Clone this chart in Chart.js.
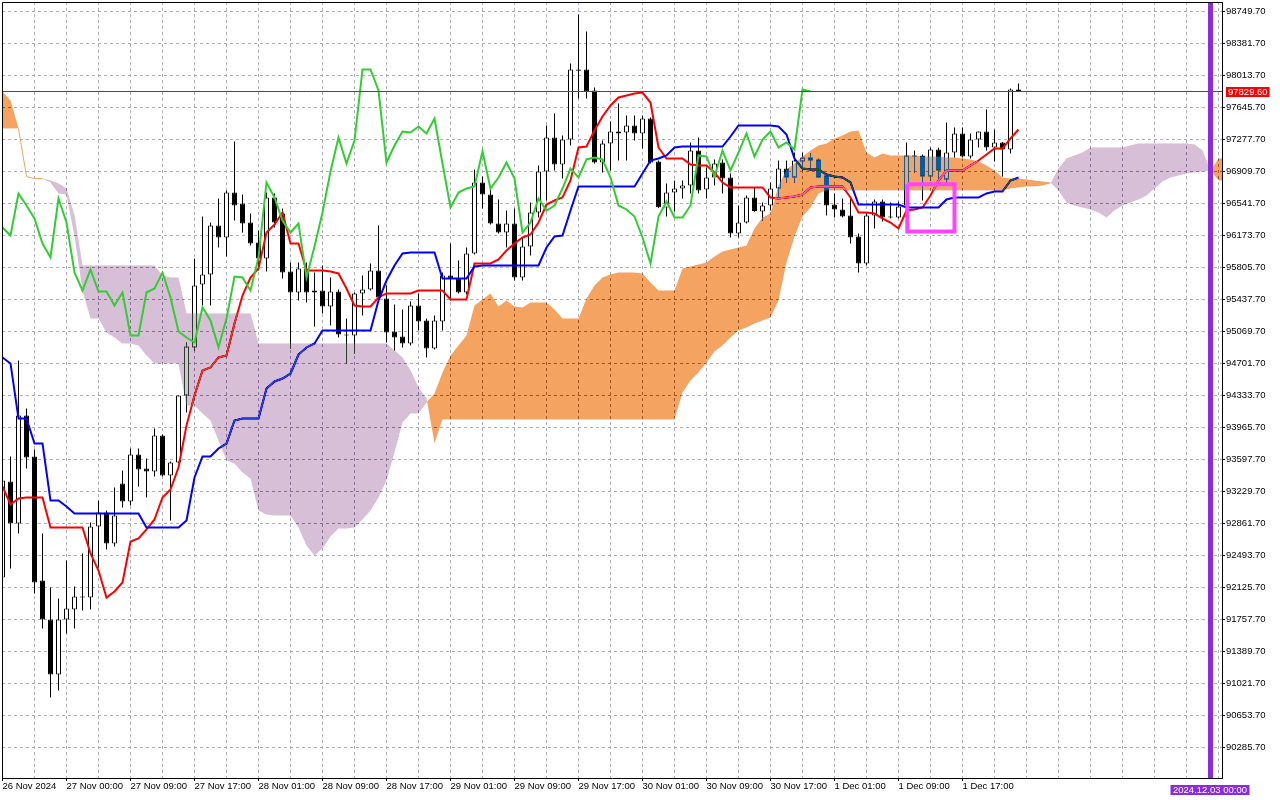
<!DOCTYPE html>
<html><head><meta charset="utf-8">
<script src="https://cdn.jsdelivr.net/npm/chart.js@4.4.1/dist/chart.umd.min.js"></script>
<style>html,body{margin:0;padding:0;background:#fff;overflow:hidden}canvas{display:block}</style>
</head><body>
<canvas id="c" width="1280" height="800"></canvas>
<script>
// ---- hourly bars (index 0 = first visible bar) ----
const openP = [
92241,93345,92862,94104,93632,92206,91758,91125,91758,91873,
92022,92011,92827,92988,92632,93322,93115,93655,93494,93460,
93874,93414,93563,94334,94886,95610,95725,96289,96151,96668,
96542,96323,96093,95909,96611,96427,95760,95518,95794,95518,
95541,95357,95530,95035,95024,95507,95553,95771,95449,95070,
95012,94932,95369,95196,94874,95185,95714,95679,95518,95967,
96783,96645,96312,96208,96312,95691,96047,96438,96910,97301,
96990,97278,98068,98083,97841,97013,97232,97370,97358,97439,
97347,97519,97025,96496,96668,96714,96749,97151,96703,96841,
97013,96841,96197,96323,96611,96450,96519,96714,96944,96841,
97025,97071,97048,96864,96530,96473,96404,96162,95852,96404,
96565,96392,96381,96519,97094,97094,96852,97163,96818,97128,
97347,97082,97278,97370,97186,97243,97163,97853];
const highP = [
93448,93632,94736,94184,93713,92747,92126,91999,92436,92137,
92517,92873,93126,93011,93276,93471,93724,93724,93609,93954,
93885,93575,94334,94943,95909,96392,96323,96599,96691,97255,
96645,96427,96231,96668,96657,96484,95863,95863,95863,95748,
95829,95691,95553,95219,95518,95714,95852,96289,95599,95380,
95323,95415,95507,95219,95254,95748,96082,95886,96036,96933,
96852,96714,96588,96461,96484,96151,96553,96979,97439,97577,
97324,98152,98715,98520,97876,97266,97485,97692,97554,97554,
97554,97531,97036,96772,96806,96806,97243,97301,96956,97048,
97048,96887,96519,96634,96726,96553,96783,97036,97036,97128,
97128,97117,97055,96887,96657,96599,96611,96197,96438,96588,
96588,96553,96565,97243,97151,97105,97186,97186,97473,97416,
97416,97347,97370,97623,97393,97250,97864,97922];
const lowP = [
92206,92344,92747,93494,92057,91654,90861,90941,91597,91654,
91861,91873,92356,92563,92597,93046,93069,93287,93161,93402,
93402,92896,93555,94138,94851,95369,95369,96036,95932,96346,
96208,96059,95771,95760,96266,95679,94874,95426,95403,95127,
95277,95139,95001,94702,94817,95254,95541,95449,94943,94851,
94886,94909,95081,94771,94863,95081,95426,95507,95495,95955,
96484,96300,96197,96036,95656,95656,95944,96381,96576,96921,
96829,97209,97749,97749,97002,96898,96921,97036,97036,97266,
97174,97002,96490,96392,96450,96599,96657,96657,96599,96749,
96657,96151,96151,96312,96448,96346,96461,96611,96783,96783,
96921,96921,96835,96404,96381,96381,96082,95748,95829,96254,
96335,96369,96369,96496,96898,96576,96806,96806,96783,97071,
97071,97059,97186,97151,97025,96852,97117,97829.6];
const closeP = [
93356,92862,94104,93621,92183,91758,91125,91758,91884,92022,
92011,92827,92988,92632,92954,93115,93655,93483,93460,93874,
93414,93563,94334,94897,95599,95725,96289,96151,96668,96519,
96312,96082,95909,96611,96323,95748,95518,95794,95518,95541,
95357,95530,95035,95024,95507,95553,95771,95461,95058,95001,
94932,95369,95185,94874,95196,95714,95679,95518,95967,96783,
96645,96312,96208,96312,95691,96047,96438,96910,97301,96990,
97278,98083,98083,97830,97013,97232,97370,97347,97439,97347,
97519,97013,96500,96668,96714,96749,97151,96691,96841,97002,
96829,96197,96323,96611,96455,96519,96714,96944,96841,97036,
97071,97036,96841,96519,96473,96392,96151,95852,96404,96565,
96381,96381,96507,97094,97082,96852,97163,96921,97128,97347,
97082,97278,97370,97186,97243,97163,97853,97829.6];

// ---- Ichimoku lines ----
const tenkan = [
93287,93080,93149,93161,93161,93161,92816,92816,92816,92816,
92816,92517,92321,92011,92080,92183,92655,92689,92793,92908,
93161,93253,93506,93989,94334,94621,94656,94771,94794,95162,
95484,95691,95794,96208,96300,96438,96082,96082,95771,95771,
95771,95760,95737,95564,95369,95357,95357,95461,95507,95507,
95507,95507,95541,95541,95541,95541,95438,95438,95438,95852,
95852,95852,95898,96001,96082,96151,96185,96323,96530,96576,
96611,96806,97186,97197,97381,97542,97669,97761,97784,97807,
97818,97703,97186,97059,97059,97059,96990,96979,96979,96898,
96783,96726,96726,96726,96726,96726,96611,96599,96611,96622,
96645,96726,96737,96737,96737,96737,96611,96438,96438,96427,
96369,96323,96254,96461,96473,96496,96634,96806,96921,96921,
96921,96979,97036,97105,97174,97174,97289,97393];
const kijun = [
94771,94702,94069,94069,93782,93782,93126,93126,93057,92977,
92977,92977,92977,92977,92977,92977,92977,92977,92816,92816,
92816,92816,92816,92896,93391,93632,93632,93724,93782,94046,
94069,94069,94069,94414,94495,94529,94587,94805,94886,94932,
95081,95081,95081,95081,95081,95081,95081,95426,95656,95829,
95967,95978,95978,95978,95978,95679,95679,95679,95679,95817,
95829,95829,95829,95829,95829,95829,95829,95829,96036,96162,
96174,96461,96737,96737,96737,96737,96737,96737,96737,96737,
96887,97036,97059,97094,97186,97197,97197,97197,97197,97197,
97197,97312,97439,97439,97439,97439,97439,97427,97335,97059,
96944,96933,96933,96875,96852,96841,96783,96530,96530,96530,
96530,96530,96530,96496,96496,96496,96496,96496,96588,96611,
96611,96611,96611,96657,96680,96680,96806,96841];
const chikou = [
96266,96174,96657,96519,96369,96082,95921,96599,96323,95748,
95541,95783,95530,95530,95369,95518,95024,95024,95518,95564,
95748,95461,95070,95001,94943,95346,95196,94886,95219,95702,
95691,95541,95921,96783,96611,96346,96208,96312,95691,96047,
96438,96910,97301,97002,97266,98083,98083,97841,97013,97209,
97370,97358,97427,97347,97519,97002,96496,96668,96714,96737,
97140,96714,96841,97013,96829,96208,96323,96599,96461,96519,
96714,96944,96841,97048,97071,97048,96841,96519,96473,96392,
96151,95852,96392,96565,96381,96381,96519,97094,97082,96852,
97151,96921,97128,97347,97082,97278,97370,97186,97243,97163,
97853,97830];
const spanA = [
97830,97726,97404,96852,96829,96829,96783,96657,96645,96162,
95541,95219,95219,95058,95001,94932,94932,94909,94794,94702,
94702,94702,94702,94219,94219,94127,94046,93816,93586,93552,
93448,93379,93011,92965,92954,92954,92954,92816,92609,92494,
92574,92712,92804,92804,92816,92908,93011,93161,93356,93678,
94023,94127,94127,94253,94357,94598,94794,94909,95024,95369,
95438,95507,95357,95426,95357,95346,95403,95403,95403,95323,
95219,95219,95219,95449,95599,95691,95725,95748,95748,95748,
95737,95633,95541,95541,95541,95794,95817,95840,95863,95932,
95990,96013,96036,96059,96254,96381,96427,96749,96933,97002,
97082,97151,97209,97232,97289,97324,97370,97381,97128,97071,
97117,97094,97094,97094,97094,97082,97082,97082,97071,97071,
97059,97048,97025,96979,96921,96841,96829,96829,96818,96806,
96795,96783,96691,96553,96519,96496,96473,96438,96381,96461,
96519,96553,96588,96634,96714,96795,96841,96864,96887,96898,
96910,96921,97059,97059];
const spanB = [
97404,97404,97404,96852,96829,96829,96806,96772,96714,96404,
95829,95829,95829,95829,95829,95829,95829,95829,95829,95829,
95714,95691,95691,95277,95277,95277,95277,95277,95277,95277,
95277,95277,94932,94932,94932,94932,94932,94932,94932,94932,
94932,94932,94932,94932,94932,94932,94932,94932,94932,94851,
94771,94621,94426,94299,93782,94058,94058,94058,94058,94058,
94058,94058,94058,94058,94058,94058,94058,94058,94058,94058,
94058,94058,94058,94058,94058,94058,94058,94058,94058,94058,
94058,94058,94058,94058,94058,94368,94506,94598,94713,94840,
94909,95001,95081,95116,95162,95196,95231,95426,95863,96162,
96392,96496,96657,96691,96691,96691,96691,96691,96691,96691,
96691,96691,96691,96691,96691,96691,96691,96691,96691,96691,
96691,96691,96691,96691,96691,96691,96714,96726,96737,96737,
96749,96772,96944,97059,97094,97128,97186,97186,97186,97186,
97186,97209,97232,97232,97232,97232,97232,97232,97232,97220,
97151,96921,96806,96806];

// ---- axes, objects ----
const yTicks = [98749.70,98381.70,98013.70,97645.70,97277.70,96909.70,96541.70,96173.70,
  95805.70,95437.70,95069.70,94701.70,94333.70,93965.70,93597.70,93229.70,92861.70,92493.70,
  92125.70,91757.70,91389.70,91021.70,90653.70,90285.70];
const timeLabelBars = [0,8,16,24,32,40,48,56,64,72,80,88,96,104,112,120];
const timeLabels = ['26 Nov 2024','27 Nov 00:00','27 Nov 09:00','27 Nov 17:00','28 Nov 01:00',
  '28 Nov 09:00','28 Nov 17:00','29 Nov 01:00','29 Nov 09:00','29 Nov 17:00','30 Nov 01:00',
  '30 Nov 09:00','30 Nov 17:00','1 Dec 01:00','1 Dec 09:00','1 Dec 17:00'];
const lastPrice = 97829.60;
const vLineBar = 151;
const vLineLabel = '2024.12.03 00:00';
const rectBars = [113.1, 119.0];
const rectPrices = [96762, 96220];

const X_MIN = -0.0625, X_MAX = 152.4375;
const Y_MIN = 89934.95, Y_MAX = 98858.95;
const GRID = 'rgb(176,176,188)';
const FONT = {family: "'Liberation Sans', Arial, sans-serif", size: 9.5};
const gridBars = [];
for (let v = 0; v <= 152; v += 4) gridBars.push(v);

const pts = arr => arr.map((v, i) => ({x: i, y: v}));
const KIJUN_IDX = 3, SPANA_IDX = 4;

const mtPlugin = {
  id: 'mt',
  beforeDraw(chart) {
    const c = chart.ctx; c.save(); c.globalCompositeOperation = 'source-over';
    c.fillStyle = '#fff'; c.fillRect(0, 0, chart.width, chart.height); c.restore();
  },
  afterDatasetDraw(chart, args) {
    if (args.index === KIJUN_IDX) chart.ctx.globalCompositeOperation = 'difference';
  },
  beforeDatasetDraw(chart, args) {
    if (args.index === SPANA_IDX) chart.ctx.globalCompositeOperation = 'source-over';
  },
  afterDatasetsDraw(chart) { chart.ctx.globalCompositeOperation = 'source-over'; },
  afterDraw(chart) {
    const {ctx, chartArea: a, scales: {x, y}} = chart;
    ctx.save();
    ctx.strokeStyle = '#000'; ctx.lineWidth = 1;
    ctx.beginPath();
    ctx.moveTo(a.left + 0.5, a.bottom); ctx.lineTo(a.left + 0.5, a.top + 0.5); ctx.lineTo(a.right, a.top + 0.5);
    ctx.stroke();
    ctx.font = "9.5px 'Liberation Sans', Arial, sans-serif";
    ctx.textBaseline = 'middle';
    const py = y.getPixelForValue(lastPrice);
    const pt = lastPrice.toFixed(2);
    const pw = ctx.measureText(pt).width;
    ctx.fillStyle = '#FF0000'; ctx.fillRect(a.right + 4, Math.round(py) - 5, pw + 4, 10);
    ctx.fillStyle = '#fff'; ctx.textAlign = 'left'; ctx.fillText(pt, a.right + 6, Math.round(py));
    const vx = x.getPixelForValue(vLineBar);
    const tw = ctx.measureText(vLineLabel).width;
    ctx.fillStyle = '#8A2BE2'; ctx.fillRect(vx - tw / 2 - 3, a.bottom + 7, tw + 5, 10);
    ctx.fillStyle = '#fff'; ctx.textAlign = 'center'; ctx.fillText(vLineLabel, vx - 0.5, a.bottom + 12.5);
    ctx.restore();
  }
};

Chart.defaults.font.family = FONT.family;
Chart.defaults.font.size = FONT.size;

new Chart(document.getElementById('c'), {
  type: 'bar',
  data: {
    datasets: [
      { type: 'bar', label: 'wick', data: lowP.map((l, i) => ({x: i, y: [l, highP[i]]})),
        backgroundColor: '#000', borderWidth: 0, barThickness: 1, grouped: false, inflateAmount: 0, order: 10 },
      { type: 'bar', label: 'body', data: openP.map((o, i) => ({x: i, y: [o, closeP[i]]})),
        backgroundColor: openP.map((o, i) => closeP[i] >= o ? '#fff' : '#000'),
        borderColor: '#000', borderWidth: 1, borderSkipped: false, barThickness: 5, minBarLength: 1,
        grouped: false, inflateAmount: 0, order: 9 },
      { type: 'line', label: 'Tenkan', data: pts(tenkan), borderColor: '#FF0000', borderWidth: 2,
        pointRadius: 0, fill: false, tension: 0, order: 8 },
      { type: 'line', label: 'Kijun', data: pts(kijun), borderColor: '#0000FF', borderWidth: 2,
        pointRadius: 0, fill: false, tension: 0, order: 7 },
      { type: 'line', label: 'Senkou A', data: pts(spanA), borderColor: 'rgba(0,0,0,0)', borderWidth: 1,
        pointRadius: 0, tension: 0, order: 6,
        fill: {target: 5, above: 'rgb(11,91,159)', below: 'rgb(39,64,39)'},
        segment: { borderColor: c => (spanA[c.p0DataIndex] === spanB[c.p0DataIndex] && spanA[c.p1DataIndex] === spanB[c.p1DataIndex]) ? '#F4A460' : 'rgba(0,0,0,0)' } },
      { type: 'line', label: 'Senkou B', data: pts(spanB), borderColor: 'rgba(0,0,0,0)', borderWidth: 1,
        pointRadius: 0, tension: 0, fill: false, order: 5 },
      { type: 'line', label: 'Chikou', data: pts(chikou), borderColor: '#32CD32', borderWidth: 2,
        pointRadius: 0, fill: false, tension: 0, order: 4 },
      { type: 'line', label: 'Bid', data: [{x: X_MIN - 1, y: lastPrice}, {x: X_MAX + 1, y: lastPrice}],
        borderColor: '#FF0000', borderWidth: 1, pointRadius: 0, fill: false, order: 3 },
      { type: 'line', label: 'Rect', data: [
          {x: rectBars[0], y: rectPrices[0]}, {x: rectBars[1], y: rectPrices[0]},
          {x: rectBars[1], y: rectPrices[1]}, {x: rectBars[0], y: rectPrices[1]},
          {x: rectBars[0], y: rectPrices[0]}],
        borderColor: '#FF44FF', borderWidth: 4, borderJoinStyle: 'miter', pointRadius: 0, fill: false, order: 2 },
      { type: 'line', label: 'VLine', data: [{x: vLineBar, y: Y_MIN}, {x: vLineBar, y: Y_MAX}],
        borderColor: '#8A2BE2', borderWidth: 5, pointRadius: 0, fill: false, clip: 0, order: 1 }
    ]
  },
  options: {
    responsive: false, animation: false, devicePixelRatio: 1, events: [],
    layout: { autoPadding: false, padding: {left: 2, top: 2, right: 0, bottom: 0} },
    plugins: { legend: {display: false}, tooltip: {enabled: false} },
    scales: {
      x: {
        type: 'linear', min: X_MIN, max: X_MAX, offset: false,
        afterBuildTicks: s => { s.ticks = gridBars.map(v => ({value: v})); },
        afterFit: s => { s.height = 22; s.paddingLeft = 0; s.paddingRight = 0; },
        ticks: { autoSkip: false, maxRotation: 0, minRotation: 0, align: 'start', padding: 0, color: '#000', font: FONT,
          callback: v => { const i = timeLabelBars.indexOf(v); return i >= 0 ? timeLabels[i] : ''; } },
        grid: { offset: false, color: GRID, lineWidth: 1, drawTicks: true, tickLength: 3, tickWidth: 1,
          tickBorderDash: [], tickColor: c => (c.tick && timeLabelBars.indexOf(c.tick.value) >= 0) ? '#000' : 'rgba(0,0,0,0)' },
        border: { display: true, color: '#000', width: 1, dash: [3, 3] }
      },
      y: {
        type: 'linear', position: 'right', min: Y_MIN, max: Y_MAX,
        afterBuildTicks: s => { s.ticks = yTicks.map(v => ({value: v})); },
        afterFit: s => { s.width = 58; s.paddingTop = 0; s.paddingBottom = 0; },
        ticks: { autoSkip: false, padding: 1, color: '#000', font: FONT, callback: v => Number(v).toFixed(2) },
        grid: { color: GRID, lineWidth: 1, tickLength: 3, tickWidth: 1, tickColor: '#000', tickBorderDash: [] },
        border: { display: true, color: '#000', width: 1, dash: [3, 3] }
      }
    }
  },
  plugins: [mtPlugin]
});
</script>
</body></html>
